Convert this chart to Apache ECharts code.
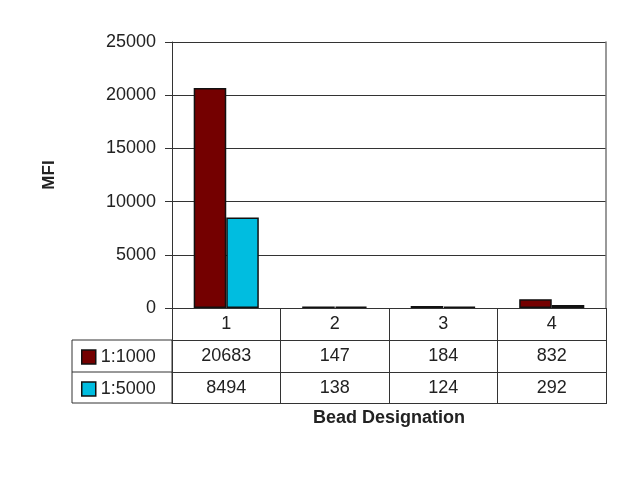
<!DOCTYPE html>
<html>
<head>
<meta charset="utf-8">
<script src="https://cdn.jsdelivr.net/npm/echarts@6/dist/echarts.min.js"></script>
<style>
  html, body { margin: 0; padding: 0; background: #fff; }
  #main { width: 640px; height: 480px; }
</style>
</head>
<body>
<div id="main"></div>
<script>
var beads = ['1', '2', '3', '4'];
var seriesNames = ['1:1000', '1:5000'];
var dil1000 = [20683, 147, 184, 832];
var dil5000 = [8494, 138, 124, 292];
var yTicks = { min: 0, max: 25000, interval: 5000 };

var myChart = echarts.init(document.getElementById('main'));

var font = 'Liberation Sans, Arial, sans-serif';
var ink = '#222';
var gridLeft = 172, gridRight = 34, gridTop = 42, gridBottom = 172;
var rowH = 32;
var axisY = 480 - gridBottom;

// one table row = one bottom category axis pushed down by offset
function rowAxis(data, offset, showTick) {
    return {
        type: 'category',
        position: 'bottom',
        offset: offset,
        data: data,
        axisLine: { show: true, onZero: false, lineStyle: { color: '#333', width: 1 } },
        axisTick: { show: showTick, interval: 0, length: rowH, lineStyle: { color: '#333', width: 1 } },
        axisLabel: { show: showTick, interval: 0, margin: 7, color: ink, fontSize: 18, fontFamily: font },
        splitLine: { show: false }
    };
}

var xAxes = [
    rowAxis(beads, 0, true),
    rowAxis(dil1000.map(String), rowH, true),
    rowAxis(dil5000.map(String), rowH * 2, true),
    rowAxis(beads, rowH * 3 - 1, false)
];
xAxes[3].name = 'Bead Designation';
xAxes[3].nameLocation = 'middle';
xAxes[3].nameGap = 6;
xAxes[3].nameTextStyle = { color: ink, fontSize: 18, fontWeight: 'bold', fontFamily: font };

option = {
    backgroundColor: '#fff',
    animation: false,
    grid: {
        left: gridLeft,
        right: gridRight,
        top: gridTop,
        bottom: gridBottom
    },
    legend: {
        orient: 'vertical',
        left: 76,
        top: axisY + rowH + 2,
        itemWidth: 14,
        itemHeight: 14,
        itemGap: 12,
        itemStyle: { borderColor: '#111', borderWidth: 1.5 },
        icon: 'rect',
        textStyle: { color: ink, fontSize: 18, fontFamily: font, lineHeight: 20 },
        data: seriesNames
    },
    xAxis: xAxes,
    yAxis: [{
        type: 'value',
        min: yTicks.min,
        max: yTicks.max,
        interval: yTicks.interval,
        name: 'MFI',
        nameLocation: 'middle',
        nameRotate: 90,
        nameGap: 114,
        nameTextStyle: { color: ink, fontSize: 17, fontWeight: 'bold', fontFamily: font },
        axisLine: { show: true, lineStyle: { color: '#333', width: 1 } },
        axisTick: { show: true, length: 7, lineStyle: { color: '#333' } },
        axisLabel: { margin: 16, color: ink, fontSize: 18, fontFamily: font, formatter: function (v) { return String(v); } },
        splitLine: { show: true, lineStyle: { color: '#333', width: 1 } }
    }, {
        type: 'value',
        position: 'right',
        min: yTicks.min,
        max: yTicks.max,
        axisLine: { show: true, lineStyle: { color: '#777', width: 1.5 } },
        axisTick: { show: false },
        axisLabel: { show: false },
        splitLine: { show: false }
    }],
    graphic: [{
        type: 'rect',
        shape: { x: 72, y: axisY + rowH, width: gridLeft - 72, height: rowH * 2 - 1 },
        style: { fill: 'none', stroke: '#333', lineWidth: 1 }
    }, {
        type: 'line',
        shape: { x1: 72, y1: axisY + rowH * 2, x2: gridLeft, y2: axisY + rowH * 2 },
        style: { stroke: '#333', lineWidth: 1 }
    }],
    series: [{
        name: seriesNames[0],
        type: 'bar',
        data: dil1000,
        barWidth: '30%',
        barGap: 0,
        itemStyle: { color: '#740000', borderColor: '#111', borderWidth: 1.5 }
    }, {
        name: seriesNames[1],
        type: 'bar',
        data: dil5000,
        barWidth: '30%',
        barGap: 0,
        itemStyle: { color: '#00bde0', borderColor: '#111', borderWidth: 1.5 }
    }]
};
myChart.setOption(option);
</script>
</body>
</html>
